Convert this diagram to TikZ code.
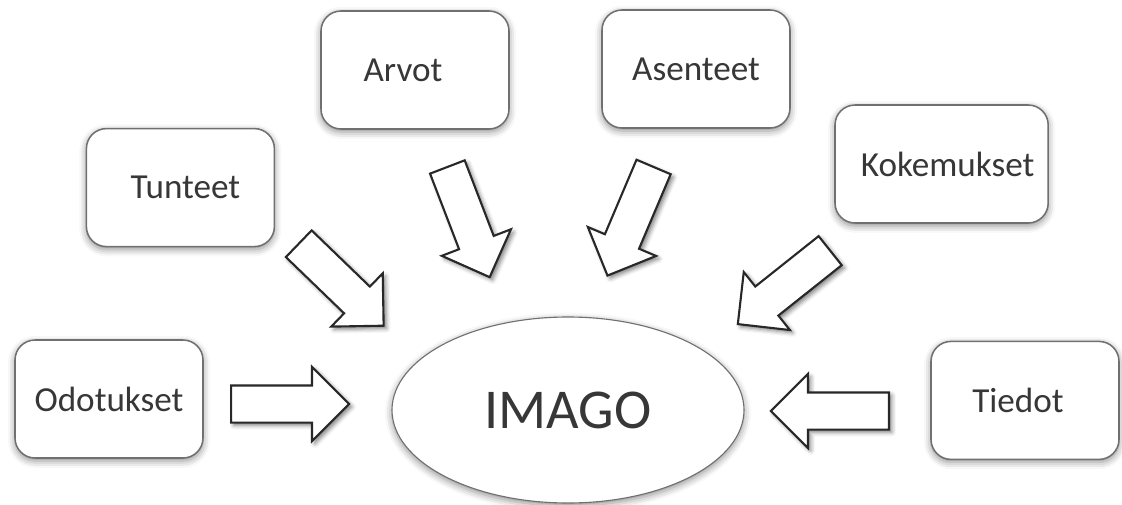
\documentclass[tikz,border=0pt]{standalone}
\usepackage{fontspec}
\setmainfont{Carlito}
\usetikzlibrary{shapes.arrows,shapes.geometric,shadows.blur}

\definecolor{boxline}{RGB}{112,112,112}
\definecolor{arrowline}{RGB}{40,40,40}
\definecolor{textgray}{RGB}{55,55,55}

\begin{document}
\begin{tikzpicture}[
    box/.style={draw=boxline, line width=1.1pt, fill=white, rounded corners=0.5cm,
      minimum width=4.7cm, minimum height=2.95cm, text=textgray,
      font=\fontsize{25}{30}\selectfont,
      blur shadow={shadow xshift=0pt, shadow yshift=-2pt, shadow blur radius=5pt, shadow opacity=45}},
    bigarrow/.style={single arrow, draw=arrowline, line width=1.5pt, fill=white,
      inner sep=0pt, inner ysep=0.4375cm, single arrow head extend=0.4625cm,
      single arrow tip angle=90, minimum height=2.95cm, anchor=tail,
      blur shadow={shadow xshift=2pt, shadow yshift=-2pt, shadow blur radius=3pt, shadow opacity=50}}
]
    \useasboundingbox (0,0) rectangle (28.05,12.6);

    % Drawing the boxes
    \node[box] (odotukset) at (2.725,2.625) {Odotukset};
    \node[box] (tunteet) at (4.51,7.91) {\hspace*{0.25cm}Tunteet};
    \node[box] (arvot) at (10.375,10.85) {Arvot\hspace*{0.6cm}};
    \node[box] (asenteet) at (17.4,10.875) {Asenteet};
    \node[box, minimum width=5.33cm] (kokemukset) at (23.54,8.5) {\hspace*{0.3cm}Kokemukset};
    \node[box] (tiedot) at (25.625,2.59) {Tiedot\hspace*{0.35cm}};

    % Drawing the centre
    \node[ellipse, fill=white, minimum width=8.8cm, minimum height=4.65cm,
      blur shadow={shadow xshift=0pt, shadow yshift=-2pt, shadow blur radius=5pt, shadow opacity=45}]
      (imagoshadow) at (14.2,2.35) {};
    \node[ellipse, draw=boxline, line width=0.8pt, fill=white, text=textgray,
      minimum width=8.8cm, minimum height=4.65cm, font=\fontsize{40}{48}\selectfont]
      (imago) at (imagoshadow) {IMAGO};

    % Drawing the block arrows
    \node[bigarrow] (odoarrow) at (5.75,2.5) {};
    \node[bigarrow, rotate=-44] (tunarrow) at (7.45,6.525) {};
    \node[bigarrow, rotate=-69] (arvarrow) at (11.175,8.45) {};
    \node[bigarrow, rotate=-113] (asearrow) at (16.35,8.45) {};
    \node[bigarrow, rotate=-141.5] (kokarrow) at (20.775,6.35) {};
    \node[bigarrow, rotate=180] (tiearrow) at (22.25,2.325) {};
\end{tikzpicture}
\end{document}
